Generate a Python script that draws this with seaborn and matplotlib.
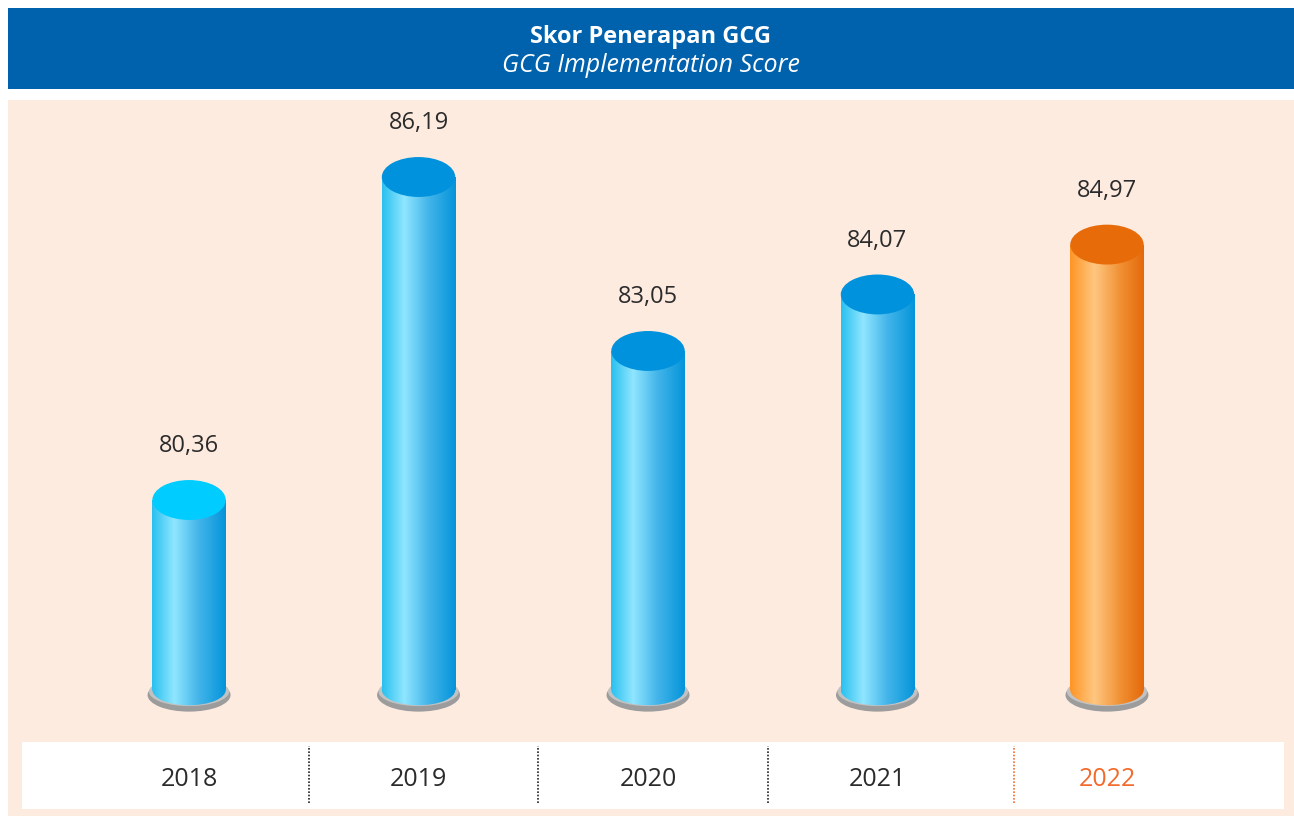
from __future__ import annotations

import matplotlib

matplotlib.use("Agg")
import matplotlib.pyplot as plt
import numpy as np
import seaborn as sns
from matplotlib.colors import LinearSegmentedColormap
from matplotlib.patches import Ellipse, Rectangle

# chart data
years = ["2018", "2019", "2020", "2021", "2022"]
scores = [80.36, 86.19, 83.05, 84.07, 84.97]
score_labels = ["80,36", "86,19", "83,05", "84,07", "84,97"]
title_id = "Skor Penerapan GCG"
title_en = "GCG Implementation Score"

# styling
BLUE_BAND = "#0061AD"
PEACH = "#FDEBE0"
BASE = 76.93  # value where the cylinders stand
blue_body = LinearSegmentedColormap.from_list(
    "blue_body", [(0, "#28C0F0"), (0.3, "#90E6FF"), (0.62, "#45B6EA"), (1, "#0494DA")]
)
orange_body = LinearSegmentedColormap.from_list(
    "orange_body", [(0, "#FF9425"), (0.33, "#FFC780"), (0.7, "#F08E30"), (1, "#E5690B")]
)
cap_colors = ["#00CCFF", "#0092DC", "#0092DC", "#0092DC", "#E86B0A"]
year_colors = ["#2B2B2B", "#2B2B2B", "#2B2B2B", "#2B2B2B", "#F26B2E"]

sns.set_theme(style="white")
plt.rcParams["font.family"] = ["Open Sans", "DejaVu Sans"]

fig = plt.figure(figsize=(12.94, 8.16), dpi=100)
W, H = 1294, 816

# header band
hax = fig.add_axes([8 / W, 1 - 89 / H, 1286 / W, 81 / H])
hax.set_facecolor(BLUE_BAND)
hax.set_xticks([])
hax.set_yticks([])
for s in hax.spines.values():
    s.set_visible(False)
hax.text(0.5, 0.64, title_id, ha="center", va="center", color="white",
         fontsize=17, fontweight="bold", transform=hax.transAxes)
hax.text(0.5, 0.285, title_en, ha="center", va="center", color="white",
         fontsize=18, style="italic", transform=hax.transAxes)

# chart area
ax = fig.add_axes([8 / W, 0, 1286 / W, 716 / H])
ax.set_facecolor(PEACH)

sns.barplot(x=years, y=scores, hue=years, palette=cap_colors, legend=False,
            width=0.32, linewidth=0, ax=ax)

ax.set_xlim(-0.789, 4.815)
ax.set_ylim(74.656, 87.58)

cap_h = 0.72
for i, p in enumerate(ax.patches):
    top = p.get_height()
    x0 = p.get_x()
    w = p.get_width()
    cx = x0 + w / 2
    p.set_y(BASE)
    p.set_height(top - BASE)
    p.set_facecolor("none")
    cmap = orange_body if years[i] == "2022" else blue_body

    # grey base plate
    ax.add_patch(Ellipse((cx, BASE - 0.09), w * 1.13, 0.6, facecolor="#9C9C9C",
                         edgecolor="none", zorder=2))
    ax.add_patch(Ellipse((cx, BASE - 0.03), w * 1.09, 0.52, facecolor="#C2C2C2",
                         edgecolor="none", zorder=2))

    grad = np.linspace(0, 1, 256)[None, :]
    body = ax.imshow(grad, cmap=cmap, aspect="auto", zorder=3,
                     extent=(x0, x0 + w, BASE - 0.4, top), interpolation="bicubic")
    body.set_clip_path(p)
    bottom = Ellipse((cx, BASE), w, 0.55, facecolor="none", edgecolor="none")
    ax.add_patch(bottom)
    low = ax.imshow(grad, cmap=cmap, aspect="auto", zorder=3,
                    extent=(x0, x0 + w, BASE - 0.4, BASE + 0.1), interpolation="bicubic")
    low.set_clip_path(bottom)

    ax.add_patch(Ellipse((cx, top), w, cap_h, facecolor=cap_colors[i],
                         edgecolor="none", zorder=4))
    ax.text(cx, top + 0.97, score_labels[i], ha="center", va="center",
            fontsize=17, color="#2B2B2B", zorder=5)

# year strip
ax.add_patch(Rectangle(((22 - 8) / 1286, 7 / 716), 1262 / 1286, 67 / 716,
                       transform=ax.transAxes, facecolor="white", edgecolor="none", zorder=1))
xt = ax.get_xaxis_transform()
for i, yr in enumerate(years):
    ax.text(i, 37 / 716, yr, ha="center", va="center", fontsize=18,
            color=year_colors[i], transform=xt, zorder=5)
for pos, col in zip([0.523, 1.521, 2.523, 3.595], ["#222222"] * 3 + ["#F26B2E"]):
    ax.plot([pos, pos], [13 / 716, 70 / 716], transform=xt, color=col,
            linestyle=(0, (1, 1)), linewidth=1.2, zorder=5)

ax.set_xticks([])
ax.set_yticks([])
ax.set_xlabel("")
ax.set_ylabel("")
for s in ax.spines.values():
    s.set_visible(False)

fig.savefig("out.png", dpi=100)
